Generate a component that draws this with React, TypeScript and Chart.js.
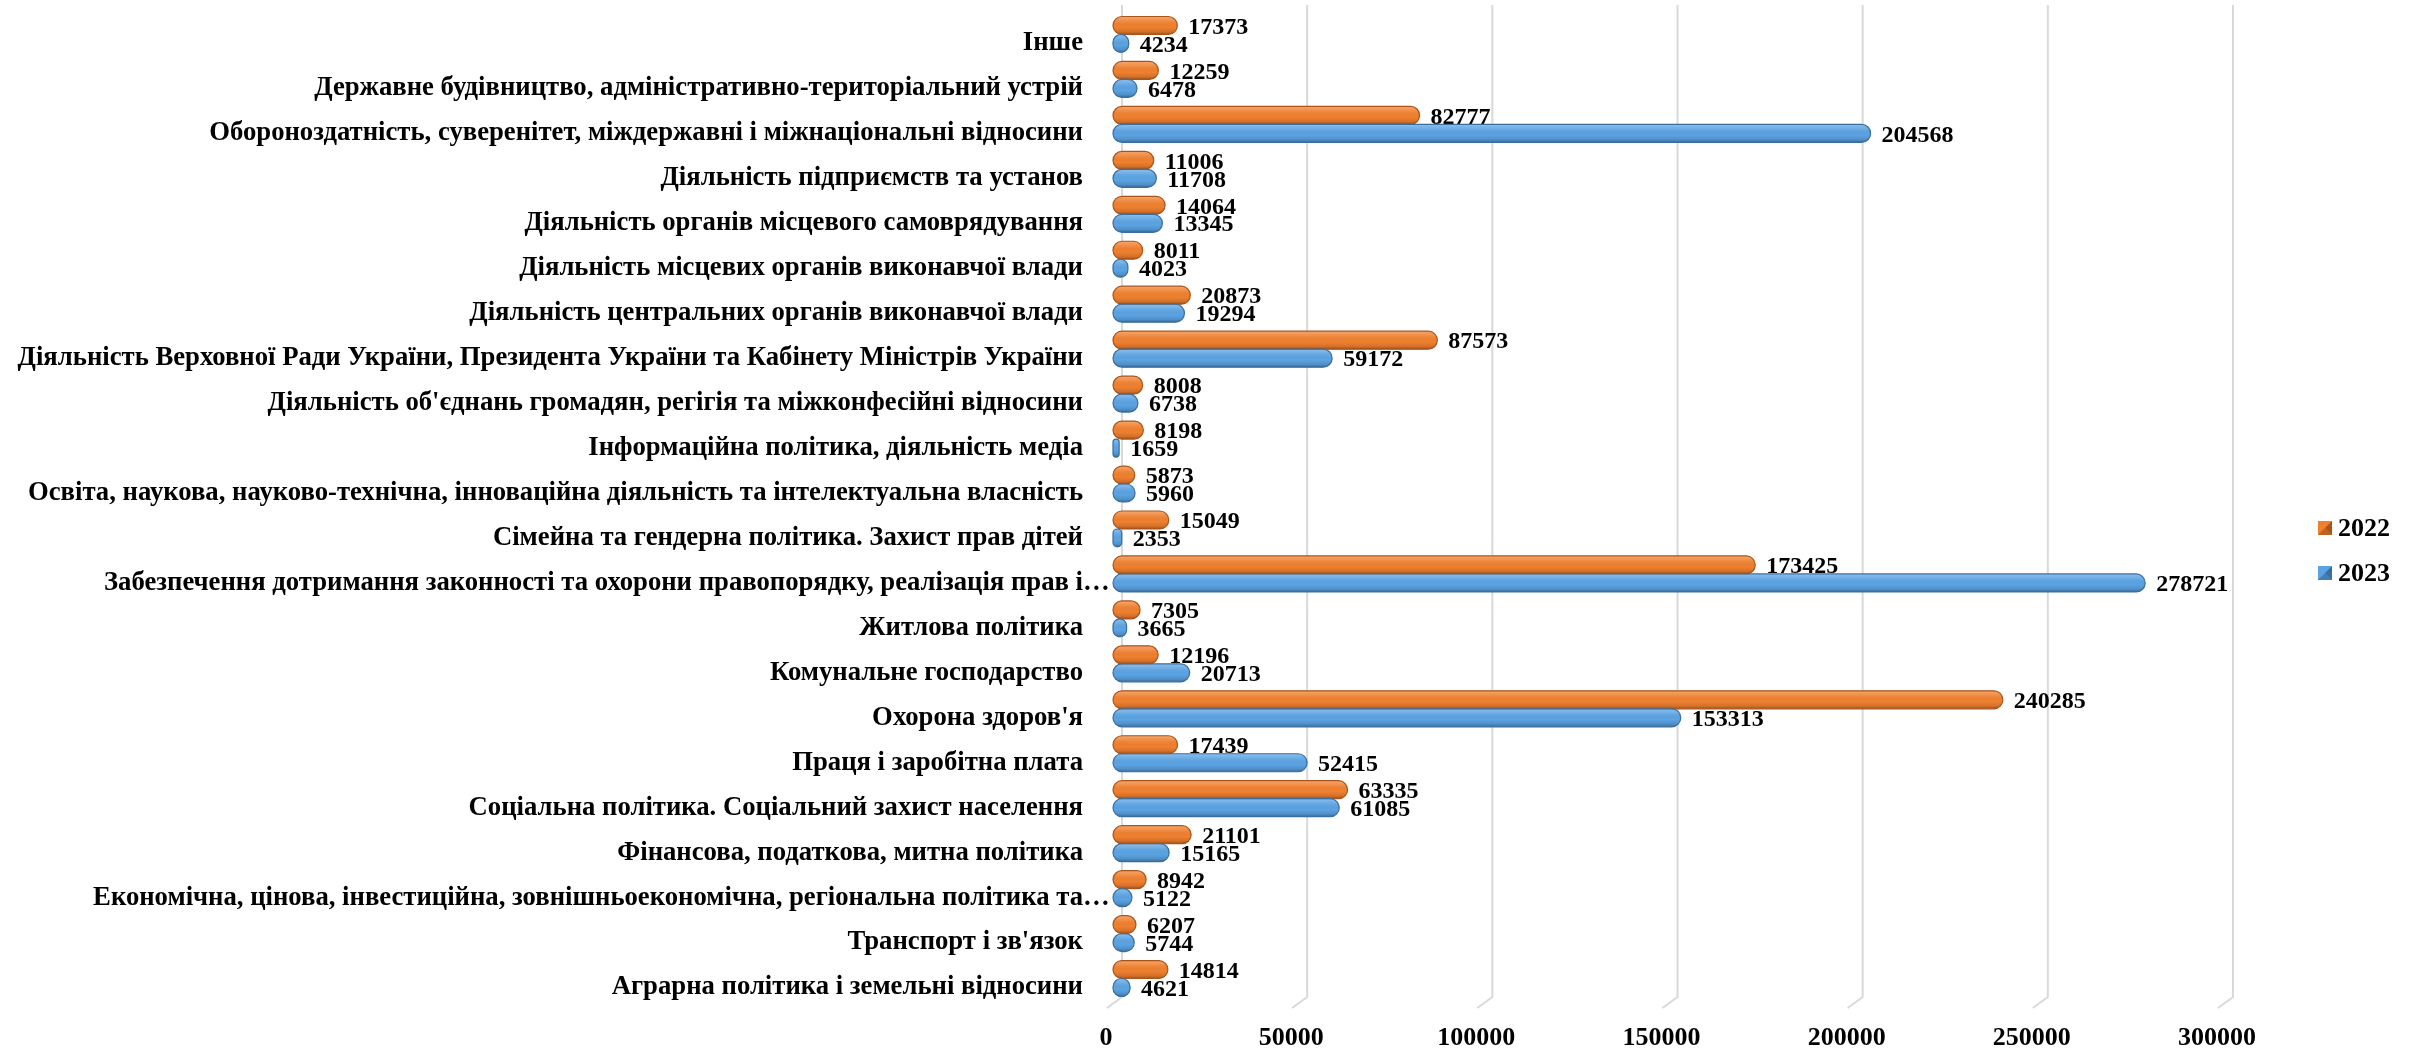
import React, { useEffect, useRef } from "react";
import { Chart, registerables } from "chart.js";

Chart.register(...registerables);

const categories: string[] = [
  "Інше",
  "Державне будівництво, адміністративно-територіальний устрій",
  "Обороноздатність, суверенітет, міждержавні і міжнаціональні відносини",
  "Діяльність підприємств та установ",
  "Діяльність органів місцевого самоврядування",
  "Діяльність місцевих органів виконавчої влади",
  "Діяльність центральних органів виконавчої влади",
  "Діяльність Верховної Ради України, Президента України та Кабінету Міністрів України",
  "Діяльність об'єднань громадян, регігія та міжконфесійні відносини",
  "Інформаційна політика, діяльність медіа",
  "Освіта, наукова, науково-технічна, інноваційна діяльність та інтелектуальна власність",
  "Сімейна та гендерна політика. Захист прав дітей",
  "Забезпечення дотримання законності та охорони правопорядку, реалізація прав і…",
  "Житлова політика",
  "Комунальне господарство",
  "Охорона здоров'я",
  "Праця і заробітна плата",
  "Соціальна політика. Соціальний захист населення",
  "Фінансова, податкова, митна політика",
  "Економічна, цінова, інвестиційна, зовнішньоекономічна, регіональна політика та…",
  "Транспорт і зв'язок",
  "Аграрна політика і земельні відносини",
];

const values2022: number[] = [
  17373, 12259, 82777, 11006, 14064, 8011, 20873, 87573, 8008, 8198, 5873,
  15049, 173425, 7305, 12196, 240285, 17439, 63335, 21101, 8942, 6207, 14814,
];

const values2023: number[] = [
  4234, 6478, 204568, 11708, 13345, 4023, 19294, 59172, 6738, 1659, 5960,
  2353, 278721, 3665, 20713, 153313, 52415, 61085, 15165, 5122, 5744, 4621,
];

const seriesNames: string[] = ["2022", "2023"];
const xTicks: number[] = [0, 50000, 100000, 150000, 200000, 250000, 300000];

const FONT = '"Liberation Serif", "Times New Roman", serif';
const ORANGE = "#F0802F";
const ORANGE_DARK = "#A9541A";
const BLUE = "#5BA3E3";
const BLUE_DARK = "#3A6E9E";

const gridPlugin = {
  id: "gridPlugin3d",
  beforeDatasetsDraw(chart: any) {
    const { ctx, chartArea, scales } = chart;
    const x = scales.x;
    ctx.save();
    ctx.strokeStyle = "#d9d9d9";
    ctx.lineWidth = 2;
    for (const v of xTicks) {
      const xf = x.getPixelForValue(v);
      ctx.beginPath();
      ctx.moveTo(xf + 9, chartArea.top - 7);
      ctx.lineTo(xf + 9, chartArea.bottom - 4);
      ctx.lineTo(xf - 6, chartArea.bottom + 7);
      ctx.stroke();
    }
    ctx.restore();
  },
};

const barStylePlugin = {
  id: "barStyle3d",
  afterDatasetsDraw(chart: any) {
    const { ctx } = chart;
    ctx.save();
    chart.data.datasets.forEach((ds: any, di: number) => {
      const meta = chart.getDatasetMeta(di);
      meta.data.forEach((el: any, i: number) => {
        const { x: xe, y, base, height } = el.getProps(["x", "y", "base", "height"], true);
        const left = Math.min(base, xe);
        const right = Math.max(base, xe);
        const top = y - height / 2;
        const w = Math.max(right - left, 1);
        const r = Math.min(9, height / 2, w / 2);
        const g = ctx.createLinearGradient(0, top, 0, top + height);
        g.addColorStop(0, "rgba(255,255,255,0.30)");
        g.addColorStop(0.25, "rgba(255,255,255,0.10)");
        g.addColorStop(0.6, "rgba(0,0,0,0)");
        g.addColorStop(0.85, "rgba(0,0,0,0.12)");
        g.addColorStop(1, "rgba(0,0,0,0.35)");
        ctx.beginPath();
        ctx.roundRect(left, top, w, height, r);
        ctx.fillStyle = g;
        ctx.fill();
        ctx.lineWidth = 1.2;
        ctx.strokeStyle = ds.edgeColor;
        ctx.stroke();
        ctx.fillStyle = "#000";
        ctx.font = `bold 24px ${FONT}`;
        ctx.textAlign = "left";
        ctx.textBaseline = "middle";
        ctx.fillText(String(ds.data[i]), right + 11, y + 2);
      });
    });
    ctx.restore();
  },
};

const categoryLabelPlugin = {
  id: "categoryLabels",
  afterDraw(chart: any) {
    const { ctx, chartArea, scales } = chart;
    const yScale = scales.y;
    ctx.save();
    ctx.font = `bold 26.7px ${FONT}`;
    ctx.fillStyle = "#000";
    ctx.textAlign = "left";
    ctx.textBaseline = "middle";
    (chart.data.labels as string[]).forEach((label, i) => {
      const py = yScale.getPixelForValue(i) + 9;
      const core = label.endsWith("…") ? label.slice(0, -1) : label;
      const wCore = ctx.measureText(core).width;
      ctx.fillText(label, chartArea.left - 30 - wCore, py);
    });
    ctx.restore();
  },
};

const legendPlugin = {
  id: "legend3d",
  afterDraw(chart: any) {
    const { ctx } = chart;
    const mx = chart.width - 102;
    const ys = [528, 573];
    const darks = [ORANGE_DARK, BLUE_DARK];
    ctx.save();
    chart.data.datasets.forEach((ds: any, i: number) => {
      const cy = ys[i];
      const s = 14;
      const x0 = mx;
      const y0 = cy - s / 2;
      ctx.fillStyle = ds.backgroundColor;
      ctx.fillRect(x0, y0, s, s);
      ctx.fillStyle = darks[i];
      ctx.beginPath();
      ctx.moveTo(x0 + s, y0);
      ctx.lineTo(x0 + s, y0 + s);
      ctx.lineTo(x0 + s / 2, y0 + s / 2);
      ctx.closePath();
      ctx.fill();
      ctx.globalAlpha = 0.7;
      ctx.beginPath();
      ctx.moveTo(x0, y0 + s);
      ctx.lineTo(x0 + s, y0 + s);
      ctx.lineTo(x0 + s / 2, y0 + s / 2);
      ctx.closePath();
      ctx.fill();
      ctx.globalAlpha = 1;
      ctx.fillStyle = "#000";
      ctx.font = `bold 26px ${FONT}`;
      ctx.textAlign = "left";
      ctx.textBaseline = "middle";
      ctx.fillText(ds.label, x0 + 20, cy + 1);
    });
    ctx.restore();
  },
};

export default function App() {
  const canvasRef = useRef<HTMLCanvasElement | null>(null);

  useEffect(() => {
    if (!canvasRef.current) return;
    const chart = new Chart(canvasRef.current, {
      type: "bar",
      data: {
        labels: categories,
        datasets: [
          {
            label: seriesNames[0],
            data: values2022,
            backgroundColor: ORANGE,
            edgeColor: ORANGE_DARK,
            borderWidth: 0,
            borderRadius: 9,
            borderSkipped: false,
          } as any,
          {
            label: seriesNames[1],
            data: values2023,
            backgroundColor: BLUE,
            edgeColor: BLUE_DARK,
            borderWidth: 0,
            borderRadius: 9,
            borderSkipped: false,
          } as any,
        ],
      },
      options: {
        indexAxis: "y",
        animation: false,
        responsive: true,
        maintainAspectRatio: false,
        devicePixelRatio: 1,
        layout: { padding: { top: 12, right: 196, left: 0, bottom: 0 } },
        datasets: { bar: { categoryPercentage: 0.8, barPercentage: 1 } },
        plugins: { legend: { display: false }, tooltip: { enabled: false } },
        scales: {
          x: {
            min: 0,
            max: 300000,
            afterBuildTicks: (s: any) => {
              s.ticks = xTicks.map((v) => ({ value: v }));
            },
            ticks: {
              padding: 22,
              labelOffset: -7,
              color: "#000",
              maxRotation: 0,
              autoSkip: false,
              font: { family: FONT, size: 26, weight: "bold" },
              callback: (v: any) => String(v),
            },
            grid: { display: false, drawTicks: false },
            border: { display: false },
            afterFit: (s: any) => {
              s.height = 51;
            },
          },
          y: {
            ticks: { display: false },
            grid: { display: false, drawTicks: false },
            border: { display: false },
            afterFit: (s: any) => {
              s.width = 1113;
            },
          },
        },
      } as any,
      plugins: [gridPlugin, barStylePlugin, categoryLabelPlugin, legendPlugin],
    });
    return () => chart.destroy();
  }, []);

  return (
    <div style={{ position: "fixed", left: 0, top: 0, width: 2420, height: 1052, background: "#fff" }}>
      <canvas ref={canvasRef} />
    </div>
  );
}
